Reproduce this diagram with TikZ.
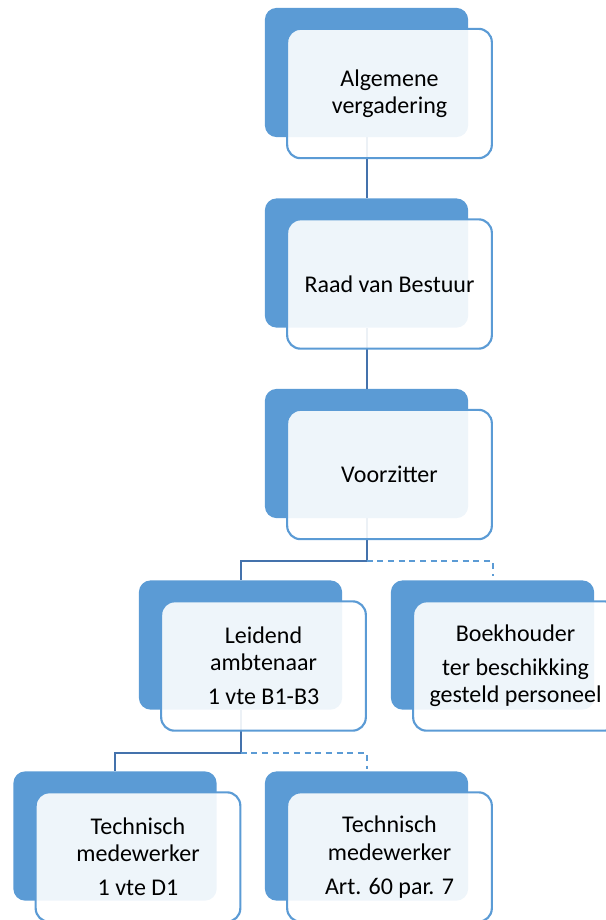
\documentclass[tikz,border=0pt]{standalone}
\usepackage{fontspec}
\setmainfont{Carlito}
\usetikzlibrary{calc, positioning}

\definecolor{b1}{RGB}{91, 155, 213}
\definecolor{ln}{RGB}{68, 114, 172}

\tikzset{
	backbox/.style={fill=b1, rounded corners=9pt, minimum width=152.5pt, minimum height=97pt, inner sep=0pt},
	frontbox/.style={draw=b1, line width=1.6pt, fill=white, fill opacity=0.9, text opacity=1,
		rounded corners=10pt, minimum width=153.5pt, minimum height=97pt, inner sep=0pt,
		align=center, font=\fontsize{18}{20.5}\selectfont},
	orgline/.style={draw=ln, line width=1.5pt},
	helpline/.style={draw=b1, line width=1.5pt, dash pattern=on 4.5pt off 3.5pt}
}

\begin{document}
\begin{tikzpicture}[x=0.75pt, y=-0.75pt]
	\useasboundingbox (0,0) rectangle (606,920);
	
	% blue back boxes
	\node[backbox] (b1) at (366.5, 72.5) {};
	\node[backbox] (b2) at (366.5, 263) {};
	\node[backbox] (b3) at (366.5, 453.5) {};
	\node[backbox] (b4) at (240.5, 645) {};
	\node[backbox] (b5) at (492.5, 645) {};
	\node[backbox] (b6) at (115, 836) {};
	\node[backbox] (b7) at (366.5, 836) {};
	
	% connectors
	\coordinate (j3) at ($(b3.south)+(0,43)$);
	\coordinate (j4) at ($(b4.south)+(0,43)$);
	
	\draw[orgline] (b1.south) -- (b2.north);
	\draw[orgline] (b2.south) -- (b3.north);
	\draw[orgline] (b3.south) -- (j3) -| (b4.north);
	\draw[helpline] (j3) -| ($(b5.north)+(0,-4)$);
	\draw[orgline] (b4.south) -- (j4) -| (b6.north);
	\draw[helpline] (j4) -| ($(b7.north)+(0,-2)$);
	
	% front boxes with text
	\node[frontbox] (f1) at ($(b1)+(23,21)$) {Algemene\\vergadering};
	\node[frontbox] (f2) at ($(b2)+(23,21)$) {Raad van Bestuur};
	\node[frontbox] (f3) at ($(b3)+(23,21)$) {Voorzitter};
	\node[frontbox] (f4) at ($(b4)+(23,21)$) {Leidend\\ambtenaar\\[5pt]1 vte B1-B3};
	\node[frontbox] (f5) at ($(b5)+(23,21)$) {Boekhouder\\[5pt]ter beschikking\\gesteld personeel};
	\node[frontbox] (f6) at ($(b6)+(23,21)$) {Technisch\\medewerker\\[5pt]1 vte D1};
	\node[frontbox] (f7) at ($(b7)+(23,21)$) {Technisch\\medewerker\\[5pt]Art. 60 par. 7};
	
\end{tikzpicture}
\end{document}
